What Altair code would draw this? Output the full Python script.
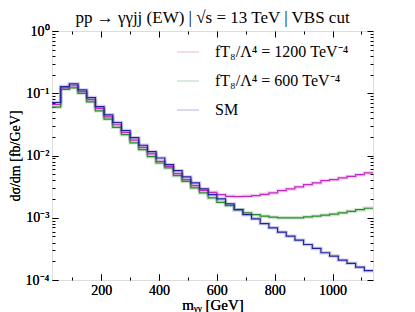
import altair as alt
import pandas as pd

# bin edges (GeV), 30 GeV bins from 30 to 1140
edges = [30, 60, 90, 120, 150, 180, 210, 240, 270, 300, 330, 360, 390, 420, 450,
         480, 510, 540, 570, 600, 630, 660, 690, 720, 750, 780, 810, 840, 870, 900,
         930, 960, 990, 1020, 1050, 1080, 1110, 1140]

sm = [0.0710, 0.128, 0.1415, 0.113, 0.0853, 0.0612, 0.0451, 0.0339, 0.0252, 0.0193,
      0.0146, 0.0115, 0.00912, 0.00713, 0.00570, 0.00452, 0.00362, 0.00290, 0.00235,
      0.00201, 0.00167, 0.00135, 0.00112, 0.000960, 0.000807, 0.000689, 0.000586,
      0.000506, 0.000436, 0.000372, 0.000321, 0.000274, 0.000242, 0.000208, 0.000185,
      0.000161, 0.000141]

ft600 = [0.0599, 0.1155, 0.122, 0.0996, 0.0728, 0.0522, 0.0385, 0.0284, 0.0216, 0.0160,
         0.0124, 0.00957, 0.00758, 0.00631, 0.00475, 0.00384, 0.00301, 0.00251, 0.00208,
         0.00177, 0.00157, 0.00135, 0.00120, 0.00112, 0.00106, 0.00102, 0.000996,
         0.000996, 0.000996, 0.00103, 0.00106, 0.00110, 0.00114, 0.00120, 0.00127,
         0.00135, 0.00142]

ft1200 = [0.066, 0.122, 0.132, 0.106, 0.079, 0.057, 0.0418, 0.0312, 0.0235, 0.0177,
          0.0135, 0.0106, 0.00804, 0.00669, 0.00511, 0.00409, 0.00328, 0.00276, 0.00256,
          0.00235, 0.00221, 0.00219, 0.00221, 0.00227, 0.00238, 0.00251, 0.00273,
          0.00290, 0.00313, 0.00340, 0.00362, 0.00395, 0.00409, 0.00436, 0.00462,
          0.00492, 0.00525]

lab1200 = "fT₈/Λ⁴ = 1200 TeV⁻⁴"
lab600 = "fT₈/Λ⁴ = 600 TeV⁻⁴"
labsm = "SM"
series = [(lab1200, ft1200), (lab600, ft600), (labsm, sm)]
colors = ["#c02cc0", "#2b8a2b", "#2222a0"]

x_major = [200, 400, 600, 800, 1000]
x_minor = [100, 300, 500, 700, 900, 1100]
y_major = [1e-4, 1e-3, 1e-2, 1e-1, 1]
y_minor = [k * 10.0 ** e for e in [-4, -3, -2, -1] for k in range(2, 10)]

rows = []
for name, vals in series:
    for i, v in enumerate(vals):
        rows.append({"m": edges[i], "v": v, "s": name})
    rows.append({"m": edges[-1], "v": vals[-1], "s": name})
df = pd.DataFrame(rows)

FONT = "Liberation Serif"
xscale = alt.Scale(domain=[30, 1140], nice=False, zero=False)
yscale = alt.Scale(type="log", domain=[1e-4, 1], nice=False)
cscale = alt.Scale(domain=[lab1200, lab600, labsm], range=colors)

ylabel_expr = ("datum.value > 0.5 ? '10⁰' : datum.value > 0.05 ? '10⁻¹' : "
               "datum.value > 0.005 ? '10⁻²' : datum.value > 0.0005 ? '10⁻³' : '10⁻⁴'")

legend = alt.Legend(title=None, orient="none", legendX=124, legendY=9,
                    symbolType="stroke", symbolSize=484, symbolStrokeWidth=1.5,
                    labelFont=FONT, labelFontSize=16, labelColor="black",
                    labelOffset=15, rowPadding=9, padding=0, labelLimit=300)

base = alt.Chart(df)

x_main = alt.X("m:Q", scale=xscale,
               axis=alt.Axis(orient="bottom", values=x_major, tickSize=6, offset=-6,
                             labelPadding=3, domain=False, grid=False,
                             title="mᵧᵧ [GeV]", titleFont=FONT, titleFontSize=15,
                             titleFontWeight="normal", titlePadding=0,
                             labelFont=FONT, labelFontSize=14, labelColor="black",
                             tickColor="black", format="d", labelOverlap=False))
y_main = alt.Y("v:Q", scale=yscale,
               axis=alt.Axis(orient="left", values=y_major, tickSize=6, offset=-6,
                             labelPadding=3, domain=False, grid=False,
                             labelExpr=ylabel_expr, labelFlush=False,
                             title="dσ/dm [fb/GeV]", titleFont=FONT, titleFontSize=14,
                             titleFontWeight="normal", titlePadding=3,
                             labelFont=FONT, labelFontSize=14, labelColor="black",
                             tickColor="black", labelOverlap=False))

shadow = base.mark_line(interpolate="step-after", strokeWidth=3.5, opacity=0.22).encode(
    x=x_main, y=y_main, color=alt.Color("s:N", scale=cscale, legend=legend))
lines = base.mark_line(interpolate="step-after", strokeWidth=1.2).encode(
    x=x_main, y=y_main, color=alt.Color("s:N", scale=cscale, legend=legend))


def tick_layer(xorient, xvals, xsize, yorient, yvals, ysize):
    return base.mark_line(opacity=0).encode(
        x=alt.X("m:Q", scale=xscale,
                axis=alt.Axis(orient=xorient, values=xvals, tickSize=xsize, offset=-xsize,
                              labels=False, domain=False, grid=False, title="",
                              tickColor="black")),
        y=alt.Y("v:Q", scale=yscale,
                axis=alt.Axis(orient=yorient, values=yvals, tickSize=ysize, offset=-ysize,
                              labels=False, domain=False, grid=False, title="",
                              tickColor="black")),
        detail="s:N")


t1 = tick_layer("bottom", x_minor, 3, "left", y_minor, 3)
t2 = tick_layer("top", x_major, 6, "right", y_major, 6)
t3 = tick_layer("top", x_minor, 3, "right", y_minor, 3)

chart = alt.layer(shadow, lines, t1, t2, t3).resolve_axis(
    x="independent", y="independent"
).properties(
    width=321, height=249,
    title=alt.TitleParams("pp → γγjj (EW) | √s = 13 TeV | VBS cut", font=FONT,
                          fontSize=17, fontWeight="normal", anchor="middle",
                          frame="group", offset=-3, color="black"),
    autosize=alt.AutoSizeParams(type="none"),
    padding={"left": 44, "top": 23, "right": 30, "bottom": 32},
).configure_view(stroke="black", strokeWidth=1).configure(background="white")

chart.save("out.html", embed_options={"renderer": "svg", "actions": False})
